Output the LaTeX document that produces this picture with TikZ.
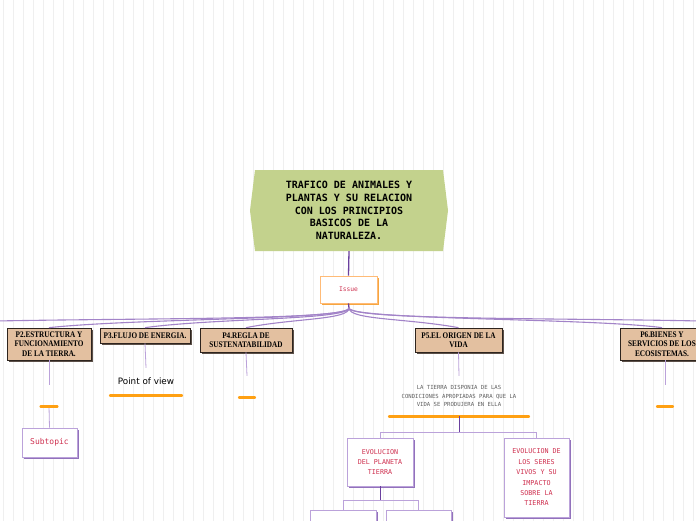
\documentclass[tikz,border=0pt]{standalone}
\usepackage{fontspec}
\usepackage{xcolor}
\usepackage{tikz}
\usetikzlibrary{calc,shadows}
\newfontfamily\monofont{DejaVu Sans Mono}
\newfontfamily\topicfont[FakeStretch=0.84]{Liberation Serif}
\newfontfamily\povfont{DejaVu Sans}
\definecolor{gridgray}{HTML}{EFEFEF}
\definecolor{maingreen}{HTML}{C3D28D}
\definecolor{topictan}{HTML}{E3C0A0}
\definecolor{topicedge}{HTML}{2E241E}
\definecolor{topicshadow}{HTML}{5C5048}
\definecolor{issueedge}{HTML}{FFBB77}
\definecolor{issueshadow}{HTML}{F6A640}
\definecolor{crimson}{HTML}{CF3150}
\definecolor{fanpurple}{HTML}{A283C8}
\definecolor{stempurple}{HTML}{6A409E}
\definecolor{twigpurple}{HTML}{BBA2DA}
\definecolor{subshadow}{HTML}{9272BC}
\definecolor{barorange}{HTML}{FFA012}
\definecolor{notegray}{HTML}{5E5E5E}

\tikzset{
  gridline/.style={draw=gridgray,line width=0.5pt},
  maintext/.style={font=\monofont\bfseries\fontsize{10}{12.8}\selectfont,align=center,
    minimum width=198pt,minimum height=81pt,inner sep=0pt},
  topicbox/.style={draw=topicedge,fill=topictan,line width=0.7pt,inner sep=0pt,align=center,
    general shadow={shadow xshift=1.6pt,shadow yshift=-1.6pt,fill=topicshadow},
    font=\topicfont\bfseries\fontsize{8.6}{9.3}\selectfont},
  issuebox/.style={draw=issueedge,fill=white,line width=0.8pt,inner sep=0pt,
    general shadow={shadow xshift=1.5pt,shadow yshift=-1.5pt,fill=issueshadow},
    text=crimson,font=\monofont\fontsize{6.3}{8}\selectfont},
  subbox/.style={draw=twigpurple,fill=white,line width=0.8pt,inner sep=0pt,align=center,
    general shadow={shadow xshift=1.5pt,shadow yshift=-1.5pt,fill=subshadow},
    text=crimson,font=\monofont\fontsize{6.7}{10.4}\selectfont},
  ideanode/.style={inner sep=0pt,minimum height=21pt},
  orangebar/.style={draw=barorange,line width=2.6pt,line cap=round,shorten <=1.3pt,shorten >=1.3pt},
  fanline/.style={draw=fanpurple,line width=1.1pt},
  stemline/.style={draw=stempurple,line width=1.3pt},
  twigline/.style={draw=twigpurple,line width=0.8pt}
}

\begin{document}
\begin{tikzpicture}[x=1pt,y=-1pt]
  \useasboundingbox (0,0) rectangle (696,520);
  \fill[white] (0,0) rectangle (696,520);
  \draw[gridline,shift={(3.3,7.3)}] (-10,-10) grid[step=10] (700,520);

  % central topic
  \fill[maingreen] (255,170) -- (443,170) -- (448,210.5) -- (443,251) -- (255,251) -- (250,210.5) -- cycle;
  \node[maintext] (main) at (349,210.5) {TRAFICO DE ANIMALES Y\\PLANTAS Y SU RELACION\\CON LOS PRINCIPIOS\\BASICOS DE LA\\NATURALEZA.};

  \node[issuebox,minimum width=57pt,minimum height=27pt] (issue) at (348.5,289.5) {Issue};
  \coordinate (hub) at (349,308);

  % main topics
  \node[topicbox,minimum width=84pt,minimum height=32pt] (ptwo) at (49,344) {P2.ESTRUCTURA Y\\FUNCIONAMIENTO\\DE LA TIERRA.};
  \node[topicbox,minimum width=90pt,minimum height=15pt] (pthree) at (145,335.5) {P3.FLUJO DE ENERGIA.};
  \node[topicbox,minimum width=92pt,minimum height=24pt] (pfour) at (246,340) {P4.REGLA DE\\SUSTENATABILIDAD};
  \node[topicbox,minimum width=87pt,minimum height=24pt] (pfive) at (458.5,340) {P5.EL ORIGEN DE LA\\VIDA};
  \node[topicbox,minimum width=84pt,minimum height=32pt] (psix) at (662,344) {P6.BIENES Y\\SERVICIOS DE LOS\\ECOSISTEMAS.};

  % ideas under the topics
  \node[ideanode,minimum width=19pt] (ptwoidea) at (49,395.5) {};
  \node[inner sep=0pt,minimum width=74pt,minimum height=27pt,font=\povfont\fontsize{8.8}{10}\selectfont] (pthreeidea) at (146,381.5) {Point of view};
  \node[ideanode,minimum width=18pt] (pfouridea) at (247,386.5) {};
  \node[ideanode,minimum width=18pt] (psixidea) at (665,395.5) {};
  \node[inner sep=0pt,minimum width=142pt,minimum height=40pt,align=center,text=notegray,
    font=\monofont\fontsize{5.6}{8.6}\selectfont] (pfivenote) at (459,396) {LA TIERRA DISPONIA DE LAS\\CONDICIONES APROPIADAS PARA QUE LA\\VIDA SE PRODUJERA EN ELLA};

  \node[subbox,minimum width=55pt,minimum height=29pt,font=\monofont\fontsize{8}{10}\selectfont] (subtopic) at (49.5,442.5) {Subtopic};
  \node[subbox,minimum width=66pt,minimum height=48pt] (evoplaneta) at (380,462) {EVOLUCION\\DEL PLANETA\\TIERRA};
  \node[subbox,minimum width=65pt,minimum height=79pt] (evoseres) at (536.5,477.5) {EVOLUCION DE\\LOS SERES\\VIVOS Y SU\\IMPACTO\\SOBRE LA\\TIERRA};
  \node[subbox,minimum width=66pt,minimum height=40pt] (evoa) at (343,530) {};
  \node[subbox,minimum width=65pt,minimum height=40pt] (evob) at (418.5,530) {};

  % connectors
  \draw[stemline] (main.south) -- (issue.north);
  \draw[stemline] (issue.south) -- (hub);
  \coordinate (fanleft) at (-4,321);
  \coordinate (fanright) at (700,321);
  \draw[fanline] (hub) .. controls ($(hub)+(0,12)$) and (150,318) .. (fanleft);
  \draw[fanline] (hub) .. controls ($(hub)+(0,12)$) and (560,318) .. (fanright);
  \foreach \n/\c in {ptwo/140,pthree/215,pfour/295,pfive/405,psix/590}
    \draw[fanline] (hub) .. controls ($(hub)+(0,12)$) and (\c,318) .. (\n.north);

  \foreach \n in {ptwo,pthree,pfour}
    \draw[twigline] (\n.south) -- (\n idea.north);
  \draw[twigline] (psix.south-|psixidea) -- (psixidea.north);
  \draw[twigline] (pfive.south) -- (pfivenote.north);
  \draw[twigline] (ptwoidea.south) -- (subtopic.north);

  \foreach \n in {ptwoidea,pthreeidea,pfouridea,psixidea,pfivenote}
    \draw[orangebar] (\n.south west) -- (\n.south east);

  \coordinate (pfivefork) at (459,432.5);
  \draw[stemline,line width=1pt] (pfivenote.south) -- (pfivefork);
  \draw[twigline] (pfivefork) -| (evoplaneta.north);
  \draw[twigline] (pfivefork) -| (evoseres.north);
  \coordinate (evofork) at (380,500.5);
  \draw[stemline,line width=1pt] (evoplaneta.south) -- (evofork);
  \draw[twigline] (evofork) -| (evoa.north);
  \draw[twigline] (evofork) -| (evob.north);
\end{tikzpicture}
\end{document}
